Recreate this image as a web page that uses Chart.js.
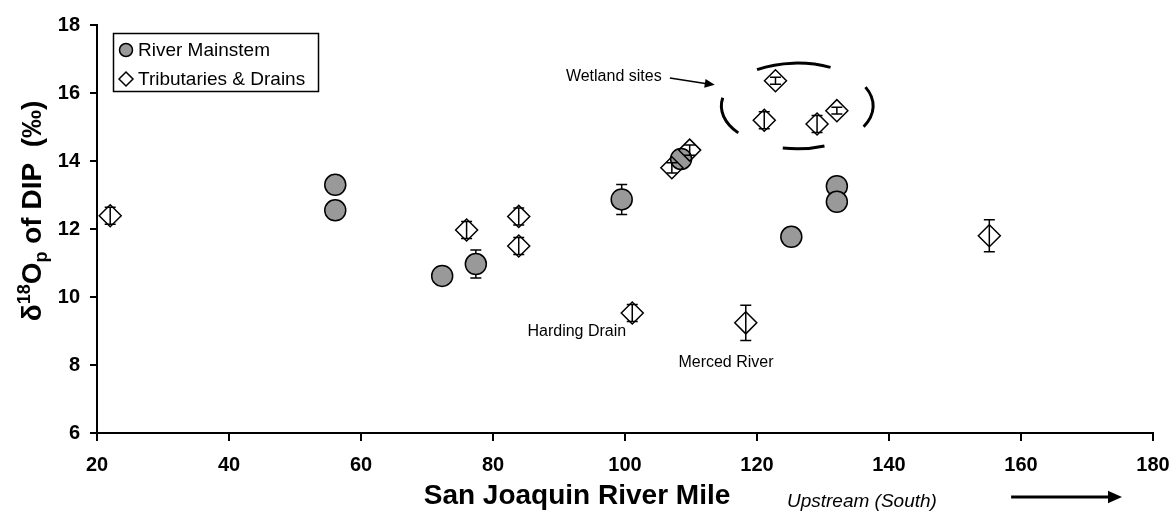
<!DOCTYPE html>
<html><head><meta charset="utf-8">
<script src="https://cdn.jsdelivr.net/npm/chart.js@4.4.1/dist/chart.umd.min.js"></script>
<style>html,body{margin:0;padding:0;background:#fff;}#wrap{width:1174px;height:522px;}</style>
</head><body><div id="wrap"><canvas id="c" width="1174" height="522"></canvas></div>
<script>
// ---- data ----
const seriesNames = ['River Mainstem', 'Tributaries & Drains'];
const mainX   = [56.1, 56.1, 72.3, 77.4, 99.5, 108.5, 125.2, 132.1, 132.1];
const mainY   = [13.3, 12.55, 10.62, 10.97, 12.87, 14.06, 11.77, 13.26, 12.8];
const mainErr = [0, 0, 0, 0.41, 0.44, 0, 0, 0, 0];
const tribX   = [22.0, 76.0, 83.9, 83.9, 101.1, 107.1, 109.8, 118.3, 122.8, 121.1, 129.1, 132.1, 155.2];
const tribY   = [12.39, 11.97, 12.37, 11.5, 9.53, 13.8, 14.32, 9.24, 16.36, 15.2, 15.09, 15.48, 11.8];
const tribErr = [0.25, 0.25, 0.25, 0.25, 0.25, 0.15, 0.15, 0.52, 0.1, 0.25, 0.25, 0.1, 0.47];
const xTicks = [20, 40, 60, 80, 100, 120, 140, 160, 180];
const yTicks = [6, 8, 10, 12, 14, 16, 18];
const xTitle = 'San Joaquin River Mile';
const directionNote = 'Upstream (South)';
const notes = [
  {text: 'Wetland sites', x: 98.3, y: 16.47},
  {text: 'Harding Drain', x: 92.7, y: 8.97},
  {text: 'Merced River', x: 115.3, y: 8.06}
];
const wetlandArrow = {x1: 106.8, y1: 16.44, x2: 113.6, y2: 16.24};
const wetlandEllipse = {cx: 126.1, cy: 15.62, rx: 11.5, ry: 1.26};

const FONT = "'Liberation Sans', Arial, sans-serif";
const ERR = [mainErr, tribErr];

function arrow(ctx, x1, y1, x2, y2, head, w) {
  const a = Math.atan2(y2 - y1, x2 - x1);
  ctx.beginPath();
  ctx.moveTo(x1, y1);
  ctx.lineTo(x2 - Math.cos(a) * head * 0.8, y2 - Math.sin(a) * head * 0.8);
  ctx.lineWidth = w; ctx.strokeStyle = '#000'; ctx.stroke();
  ctx.beginPath();
  ctx.moveTo(x2, y2);
  ctx.lineTo(x2 - head * Math.cos(a) + head * 0.45 * Math.sin(a), y2 - head * Math.sin(a) - head * 0.45 * Math.cos(a));
  ctx.lineTo(x2 - head * Math.cos(a) - head * 0.45 * Math.sin(a), y2 - head * Math.sin(a) + head * 0.45 * Math.cos(a));
  ctx.closePath(); ctx.fillStyle = '#000'; ctx.fill();
}

function drawErr(chart, i) {
  const ctx = chart.ctx, xs = chart.scales.x, ys = chart.scales.y;
  const ds = chart.data.datasets[i];
  const errs = ERR[i];
  ctx.save();
  ctx.strokeStyle = '#000'; ctx.lineWidth = 1.5;
  ds.data.forEach((p, k) => {
    const e = errs[k];
    if (!e) return;
    const px = xs.getPixelForValue(p.x);
    const top = ys.getPixelForValue(p.y + e), bot = ys.getPixelForValue(p.y - e);
    ctx.beginPath();
    ctx.moveTo(px, top); ctx.lineTo(px, bot);
    ctx.moveTo(px - 5.5, top); ctx.lineTo(px + 5.5, top);
    ctx.moveTo(px - 5.5, bot); ctx.lineTo(px + 5.5, bot);
    ctx.stroke();
  });
  ctx.restore();
}

const decor = {
  id: 'decor',
  beforeDatasetDraw(chart, args) { if (args.index === 0) drawErr(chart, 0); },
  afterDatasetDraw(chart, args) { if (args.index === 1) drawErr(chart, 1); },
  afterDraw(chart) {
    const ctx = chart.ctx, xs = chart.scales.x, ys = chart.scales.y;
    ctx.save();
    // wetland ellipse (four arcs)
    const cx = xs.getPixelForValue(wetlandEllipse.cx), cy = ys.getPixelForValue(wetlandEllipse.cy);
    const rx = xs.getPixelForValue(wetlandEllipse.cx + wetlandEllipse.rx) - cx;
    const ry = cy - ys.getPixelForValue(wetlandEllipse.cy + wetlandEllipse.ry);
    const d = Math.PI / 180;
    ctx.lineWidth = 3; ctx.strokeStyle = '#000'; ctx.lineCap = 'butt';
    [[-122, -64], [69, 101], [141, 191], [-26, 29]].forEach(([a, b]) => {
      ctx.beginPath(); ctx.ellipse(cx, cy, rx, ry, 0, a * d, b * d); ctx.stroke();
    });
    // notes
    ctx.fillStyle = '#000'; ctx.font = '16px ' + FONT;
    ctx.textAlign = 'center'; ctx.textBaseline = 'middle';
    notes.forEach(n => ctx.fillText(n.text, xs.getPixelForValue(n.x), ys.getPixelForValue(n.y)));
    arrow(ctx, xs.getPixelForValue(wetlandArrow.x1), ys.getPixelForValue(wetlandArrow.y1),
      xs.getPixelForValue(wetlandArrow.x2), ys.getPixelForValue(wetlandArrow.y2), 10, 1.5);
    // x title
    ctx.font = 'bold 28px ' + FONT;
    ctx.fillText(xTitle, 577, 496);
    ctx.font = 'italic 19px ' + FONT;
    ctx.fillText(directionNote, xs.getPixelForValue(135.9), 502);
    arrow(ctx, xs.getPixelForValue(158.5), 497, xs.getPixelForValue(175.3), 497, 14, 3);
    // y title with super/subscript
    ctx.save();
    ctx.translate(41, 211); ctx.rotate(-Math.PI / 2);
    const big = 'bold 28px ' + FONT, small = 'bold 18px ' + FONT;
    const parts = [
      {t: 'δ', f: big, dy: 0}, {t: '18', f: small, dy: -11}, {t: 'O', f: big, dy: 0},
      {t: 'p', f: small, dy: 6}, {t: ' of DIP  (‰)', f: big, dy: 0}
    ];
    let tot = 0;
    parts.forEach(p => { ctx.font = p.f; p.w = ctx.measureText(p.t).width; tot += p.w; });
    let xx = -tot / 2;
    ctx.textAlign = 'left'; ctx.textBaseline = 'alphabetic';
    parts.forEach(p => { ctx.font = p.f; ctx.fillText(p.t, xx, p.dy); xx += p.w; });
    ctx.restore();
    // legend
    ctx.lineWidth = 1.5; ctx.strokeStyle = '#000';
    ctx.strokeRect(113.5, 33.5, 205, 58);
    ctx.beginPath(); ctx.arc(126, 50, 6.5, 0, 2 * Math.PI);
    ctx.fillStyle = '#999999'; ctx.fill(); ctx.stroke();
    ctx.beginPath(); ctx.moveTo(126, 72); ctx.lineTo(133, 79); ctx.lineTo(126, 86); ctx.lineTo(119, 79); ctx.closePath();
    ctx.fillStyle = '#fff'; ctx.fill(); ctx.stroke();
    ctx.fillStyle = '#000'; ctx.font = '19px ' + FONT; ctx.textAlign = 'left'; ctx.textBaseline = 'middle';
    ctx.fillText(seriesNames[0], 138, 51);
    ctx.fillText(seriesNames[1], 138, 80);
    ctx.restore();
  }
};

const tickFont = {family: FONT, size: 20, weight: 'bold'};
new Chart(document.getElementById('c'), {
  type: 'scatter',
  data: {
    datasets: [
      {label: seriesNames[0], data: mainX.map((x, i) => ({x, y: mainY[i]})), pointStyle: 'circle',
        pointRadius: 10.5, backgroundColor: '#999999', borderColor: '#000', borderWidth: 1.5, order: 1},
      {label: seriesNames[1], data: tribX.map((x, i) => ({x, y: tribY[i]})), pointStyle: 'rectRot',
        pointRadius: 11, backgroundColor: 'rgba(255,255,255,0)', borderColor: '#000', borderWidth: 1.5, order: 0}
    ]
  },
  options: {
    responsive: false, animation: false, devicePixelRatio: 1,
    layout: {padding: {left: 0, right: 21, top: 25, bottom: 0}},
    plugins: {legend: {display: false}, tooltip: {enabled: false}},
    scales: {
      x: {type: 'linear', min: 20, max: 180,
        afterBuildTicks: s => { s.ticks = xTicks.map(v => ({value: v})); },
        afterFit: s => { s.height = 89; s.paddingLeft = 0; s.paddingRight = 0; },
        ticks: {font: tickFont, color: '#000', padding: 12, maxRotation: 0},
        grid: {drawOnChartArea: false, drawTicks: true, tickLength: 8, lineWidth: 2, color: '#000'},
        border: {display: true, color: '#000', width: 2}},
      y: {type: 'linear', min: 6, max: 18,
        afterBuildTicks: s => { s.ticks = yTicks.map(v => ({value: v})); },
        afterFit: s => { s.width = 97; s.paddingTop = 0; s.paddingBottom = 0; },
        ticks: {font: tickFont, color: '#000', padding: 10},
        grid: {drawOnChartArea: false, drawTicks: true, tickLength: 7, lineWidth: 2, color: '#000'},
        border: {display: true, color: '#000', width: 2}}
    }
  },
  plugins: [decor]
});
</script></body></html>
